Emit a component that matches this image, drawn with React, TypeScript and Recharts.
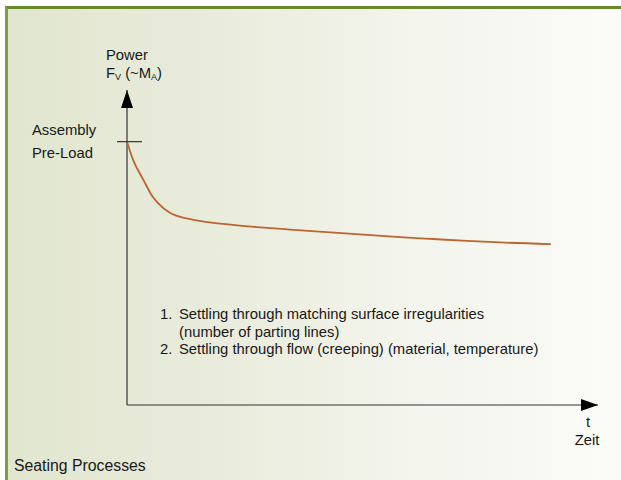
import { Line, LineChart, ReferenceDot, ReferenceLine, XAxis, YAxis } from "recharts"

// time (arbitrary units) and clamp force
const timeVals = [0, 1.3, 3.5, 5.2, 6.6, 9.1, 13.4, 20.4, 27.6, 34.6, 46.3, 58, 65, 72.2, 79.2, 90]
const powerVals = [83.6, 77.8, 71.4, 66.7, 64.1, 61, 59, 57.5, 56.5, 55.7, 54.5, 53.3, 52.7, 52.1, 51.6, 51.1]
const preLoad = 83.6

const noteNums = ["1.", "", "2."]
const noteLines = [
  "Settling through matching surface irregularities",
  "(number of parting lines)",
  "Settling through flow (creeping) (material, temperature)",
]

const data = timeVals.map((t, i) => ({ t, power: powerVals[i] }))

const FONT = "'Liberation Sans', Arial, sans-serif"
const INK = "#181818"
const FS = 14.8

const ArrowUp = ({ cx, cy }: any) => (
  <polygon points={`${cx},${cy} ${cx - 6},${cy + 18} ${cx + 6},${cy + 18}`} fill="#000" />
)
const ArrowRight = ({ cx, cy }: any) => (
  <polygon points={`${cx},${cy} ${cx - 17},${cy - 6} ${cx - 17},${cy + 6}`} fill="#000" />
)
const Tick = ({ cx, cy }: any) => (
  <line x1={cx - 10} y1={cy} x2={cx + 15} y2={cy} stroke="#333" strokeWidth={1.2} />
)

export default function App() {
  return (
    <div
      style={{
        position: "absolute",
        left: 0,
        top: 0,
        width: 621,
        height: 480,
        background: "#fff",
        fontFamily: FONT,
      }}
    >
      <div
        style={{
          position: "absolute",
          left: 5,
          top: 6,
          right: 0,
          bottom: 0,
          borderLeft: "3px solid #7f9f45",
          borderTop: "3px solid #6a8a2e",
          background: "linear-gradient(to right, #e1e6cf 0%, #e8ebda 30%, #f3f4ec 65%, #fbfbf8 100%)",
        }}
      />
      <div style={{ position: "absolute", left: 0, top: 0 }}>
        <LineChart width={621} height={480} data={data} margin={{ top: 90, right: 23, bottom: 75, left: 127 }}>
          <XAxis dataKey="t" type="number" domain={[0, 100]} hide />
          <YAxis type="number" domain={[0, 100]} hide />
          <ReferenceLine x={0} stroke="#333" strokeWidth={1.2} ifOverflow="visible" />
          <ReferenceLine y={0} stroke="#333" strokeWidth={1.2} ifOverflow="visible" />
          <ReferenceDot x={0} y={100} shape={ArrowUp} ifOverflow="visible" />
          <ReferenceDot x={100} y={0} shape={ArrowRight} ifOverflow="visible" />
          <ReferenceDot x={0} y={preLoad} shape={Tick} ifOverflow="visible" />
          <Line
            type="monotone"
            dataKey="power"
            stroke="#bd6531"
            strokeWidth={1.8}
            dot={false}
            isAnimationActive={false}
          />
          <g fontFamily={FONT} fontSize={FS} fill={INK}>
            <text x={106} y={60}>Power</text>
            <text x={106} y={78}>
              F<tspan fontSize={9} dy={2}>V</tspan>
              <tspan dy={-2}> (~M</tspan>
              <tspan fontSize={9} dy={2}>A</tspan>
              <tspan dy={-2}>)</tspan>
            </text>
            <text x={32} y={135}>Assembly</text>
            <text x={32} y={158}>Pre-Load</text>
            {noteLines.map((n, i) => (
              <g key={i}>
                <text x={160} y={319 + i * 17.5}>{noteNums[i]}</text>
                <text x={179} y={319 + i * 17.5}>{n}</text>
              </g>
            ))}
            <text x={588} y={427} textAnchor="middle">t</text>
            <text x={587} y={445} textAnchor="middle">Zeit</text>
            <text x={14} y={471} fontSize={15.8}>Seating Processes</text>
          </g>
        </LineChart>
      </div>
    </div>
  )
}
